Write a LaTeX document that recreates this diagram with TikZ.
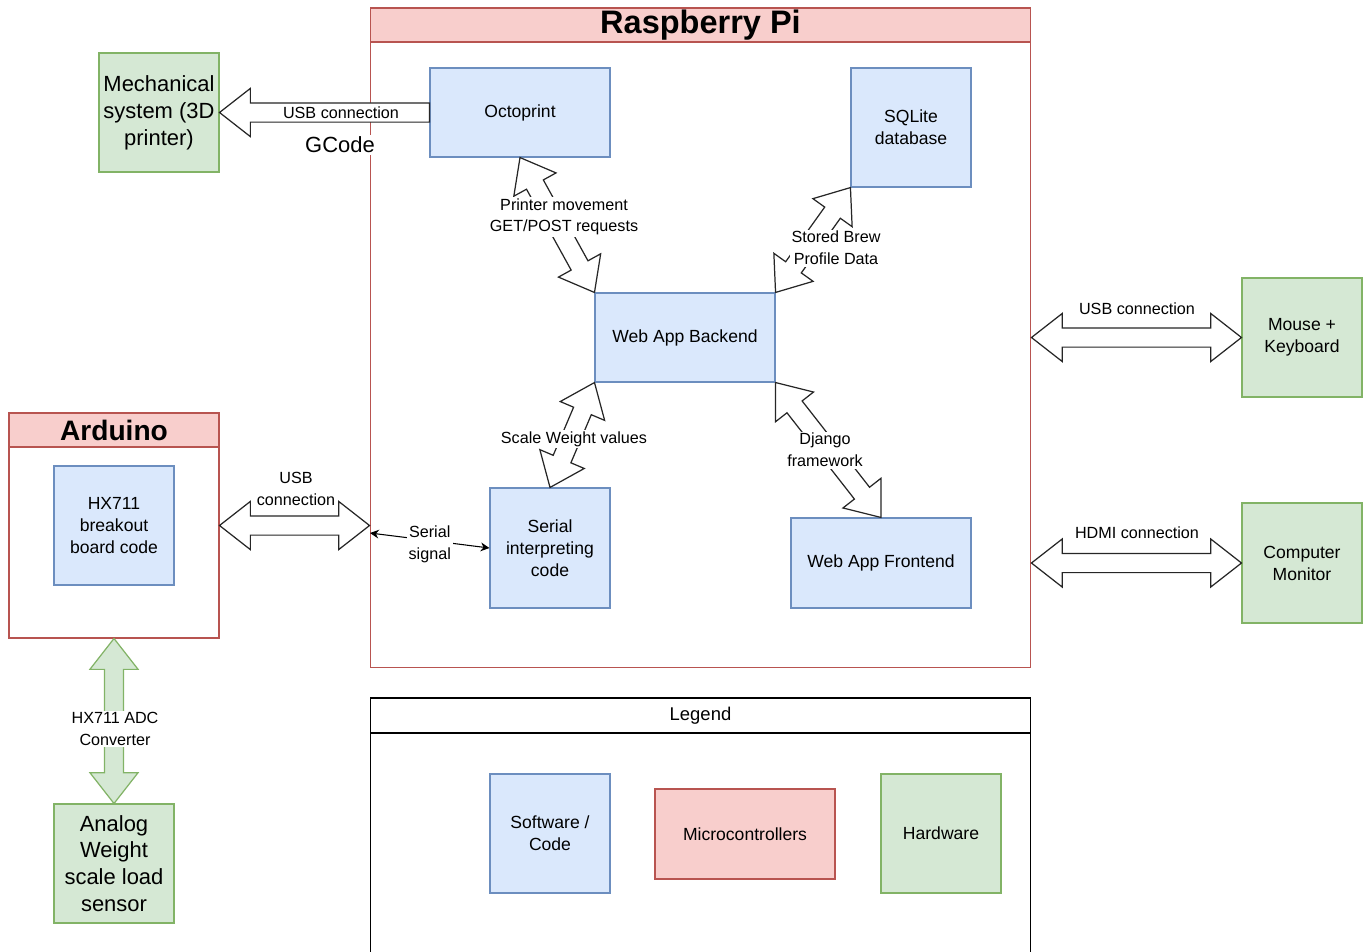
\documentclass[tikz,border=0pt]{standalone}
\usepackage{fontspec}
\setmainfont{Liberation Sans}
\usepackage{tikz}
\usetikzlibrary{shapes.arrows, calc, arrows.meta}
\definecolor{softblue}{HTML}{DAE8FC}
\definecolor{edgeblue}{HTML}{6C8EBF}
\definecolor{softred}{HTML}{F8CECC}
\definecolor{edgered}{HTML}{B85450}
\definecolor{softgreen}{HTML}{D5E8D4}
\definecolor{edgegreen}{HTML}{82B366}

\tikzset{
  box/.style={draw, rectangle, align=center, inner sep=1pt, line width=0.6pt,
    font=\fontsize{10}{12.5}\selectfont},
  code/.style={box, fill=softblue, draw=edgeblue},
  hardware/.style={box, fill=softgreen, draw=edgegreen},
  micro/.style={box, fill=softred, draw=edgered},
  bigtext/.style={font=\fontsize{12.5}{15.3}\selectfont},
  lbl/.style={align=center, inner sep=1pt, font=\fontsize{9.2}{12.3}\selectfont},
  dblarrow/.style={double arrow, draw=black!85, fill=white, line width=0.7pt,
    inner xsep=0pt, inner ysep=0.18cm, outer sep=0pt,
    double arrow head extend=0.29cm, double arrow tip angle=76},
  sglarrow/.style={single arrow, draw=black!85, fill=white, line width=0.7pt,
    inner xsep=0pt, inner ysep=0.18cm, outer sep=0pt,
    single arrow head extend=0.29cm, single arrow tip angle=76}
}

% flat double arrow between two points: [extra style]{shape style}{from}{to}
\newcommand{\flexarrow}[4][]{%
  \path let \p1=($(#4)-(#3)$) in ($(#3)!0.5!(#4)$)
    node[#2, #1, minimum height={veclen(\x1,\y1)}, rotate={atan2(\y1,\x1)}] {};}

\begin{document}
\begin{tikzpicture}[x=0.02cm, y=-0.02cm]
  \useasboundingbox (0,0) rectangle (1363,951);

  % Raspberry Pi container
  \node[draw=edgered, line width=0.6pt, minimum width=13.22cm, minimum height=13.2cm] (rpi) at (700.5,338) {};
  \node[draw=edgered, fill=softred, line width=0.6pt, inner sep=0pt, minimum width=13.22cm, minimum height=0.68cm,
        font=\fontsize{18.5}{20}\selectfont\bfseries] (rpihead) at (700.5,25) {Raspberry Pi};

  \node[code, minimum width=3.6cm, minimum height=1.78cm] (octo) at (520,112.5) {Octoprint};
  \node[code, minimum width=2.4cm, minimum height=2.38cm] (sqlite) at (911,127.5) {SQLite\\database};
  \node[code, minimum width=3.6cm, minimum height=1.78cm] (backend) at (685,337.5) {Web App Backend};
  \node[code, minimum width=2.4cm, minimum height=2.4cm] (serial) at (550,548) {Serial\\interpreting\\code};
  \node[code, minimum width=3.6cm, minimum height=1.8cm] (front) at (881,563) {Web App Frontend};

  % Arduino container
  \node[draw=edgered, line width=0.6pt, minimum width=4.2cm, minimum height=4.5cm] (arduino) at (114,525.5) {};
  \node[draw=edgered, fill=softred, line width=0.6pt, inner sep=0pt, minimum width=4.2cm, minimum height=0.68cm,
        font=\fontsize{16}{18}\selectfont\bfseries] (arduhead) at (114,430) {Arduino};
  \node[code, minimum width=2.4cm, minimum height=2.38cm] (hx) at (114,525.5) {HX711\\breakout\\board code};

  % hardware
  \node[hardware, bigtext, minimum width=2.4cm, minimum height=2.38cm] (mech) at (159,112.5) {Mechanical\\system (3D\\printer)};
  \node[hardware, bigtext, minimum width=2.4cm, minimum height=2.38cm] (sensor) at (114,863.5) {Analog\\Weight\\scale load\\sensor};
  \node[hardware, minimum width=2.4cm, minimum height=2.38cm] (mouse) at (1302,337.5) {Mouse +\\Keyboard};
  \node[hardware, minimum width=2.4cm, minimum height=2.4cm] (monitor) at (1302,563) {Computer\\Monitor};

  % Legend
  \node[draw, line width=0.6pt, minimum width=13.22cm, minimum height=5.28cm] (legend) at (700.5,830) {};
  \node[draw, line width=0.6pt, inner sep=0pt, minimum width=13.22cm, minimum height=0.7cm,
        font=\fontsize{10.5}{12}\selectfont] (legendhead) at (700.5,715.5) {Legend};
  \node[code, minimum width=2.4cm, minimum height=2.38cm] (soft) at (550,833.5) {Software /\\Code};
  \node[micro, minimum width=3.6cm, minimum height=1.8cm] (micros) at (745,834) {Microcontrollers};
  \node[hardware, minimum width=2.4cm, minimum height=2.38cm] (hard) at (941,833.5) {Hardware};

  % flat arrows
  \path let \p1=($(mech.east)-(octo.west)$) in (octo.west)
    node[sglarrow, anchor=tail, minimum height={veclen(\x1,\y1)}, rotate={atan2(\y1,\x1)}] (gcarrow) {};
  \coordinate (usbR) at (arduino.east -| rpi.west);
  \coordinate (mouseL) at (mouse.west -| rpi.east);
  \coordinate (monL) at (monitor.west -| rpi.east);
  \flexarrow{dblarrow}{arduino.east}{usbR}
  \flexarrow{dblarrow}{mouseL}{mouse.west}
  \flexarrow{dblarrow}{monL}{monitor.west}
  \flexarrow{dblarrow}{backend.north west}{octo.south}
  \flexarrow{dblarrow}{backend.north east}{sqlite.south west}
  \flexarrow{dblarrow}{backend.south west}{serial.north}
  \flexarrow{dblarrow}{backend.south east}{front.north}
  \flexarrow[draw=edgegreen, fill=softgreen]{dblarrow}{arduino.south}{sensor.north}

  % serial signal
  \coordinate (sigL) at (370,533);
  \draw[{Stealth[length=5pt,width=5pt]}-{Stealth[length=5pt,width=5pt]}, line width=0.6pt]
    (sigL) -- node[lbl, fill=white, yshift=-2pt] (siglbl) {Serial\\signal} (serial.west);

  % labels
  \node[lbl, fill=white] (usbgc) at (341,113) {USB connection};
  \node[bigtext, fill=white, inner sep=1pt] (gcode) at (340,145) {GCode};
  \node[lbl, fill=white] (printlbl) at (564,217) {Printer movement\\GET/POST requests};
  \node[lbl, fill=white] (brewlbl) at (836,248) {Stored Brew\\Profile Data};
  \node[lbl, fill=white] (weightlbl) at (574,439) {Scale Weight values};
  \node[lbl, fill=white] (djangolbl) at (825,450) {Django\\framework};
  \node[lbl] (usbard) at (296,489) {USB\\connection};
  \node[lbl] (usbmouse) at (1137,309) {USB connection};
  \node[lbl] (hdmi) at (1137,533) {HDMI connection};
  \node[lbl, fill=white] (adclbl) at (115,729) {HX711 ADC\\Converter};
\end{tikzpicture}
\end{document}
